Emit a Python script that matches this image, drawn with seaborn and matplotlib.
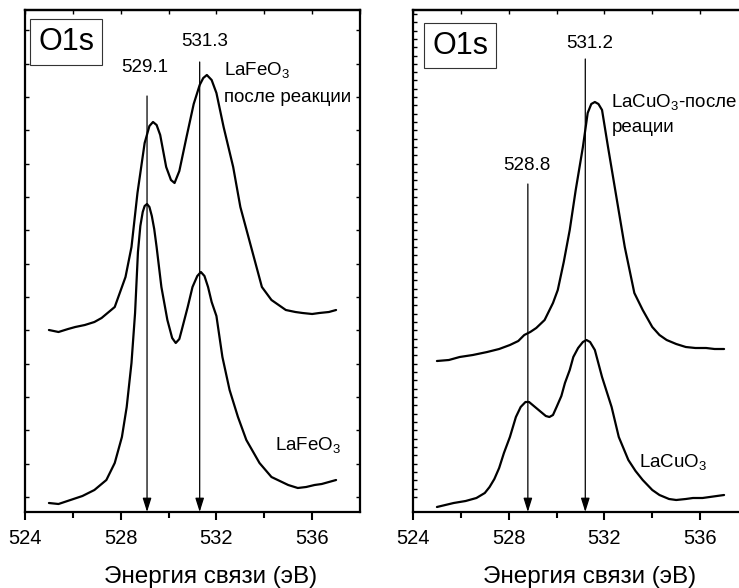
import matplotlib
matplotlib.use("Agg")
import matplotlib.pyplot as plt
import seaborn as sns
import pandas as pd
import numpy as np

# --- данные (энергия связи, эВ / интенсивность, отн. ед.) ---
fe_fresh_e = [525.0, 525.4, 525.9, 526.4, 526.9, 527.4, 527.75, 528.05, 528.25, 528.45,
              528.6, 528.72, 528.82, 528.92, 529.0, 529.1, 529.2, 529.3, 529.4, 529.5,
              529.7, 529.95, 530.15, 530.3, 530.45, 530.55, 530.8, 531.0, 531.2, 531.35,
              531.5, 531.65, 531.8, 532.0, 532.25, 532.55, 532.9, 533.25, 533.8, 534.3,
              535.0, 535.4, 535.75, 536.1, 536.4, 536.7, 537.0]
fe_fresh_i = [0.9, 0.8, 1.2, 1.6, 2.2, 3.2, 4.9, 7.5, 10.5, 14.9,
              19.9, 26.0, 28.6, 30.0, 30.6, 30.8, 30.5, 29.6, 28.3, 26.5,
              22.5, 19.2, 17.4, 16.9, 17.3, 18.2, 20.5, 22.5, 23.6, 24.0,
              23.6, 22.5, 21.0, 19.6, 15.5, 12.2, 9.5, 7.2, 4.9, 3.5,
              2.7, 2.4, 2.5, 2.7, 2.8, 3.0, 3.2]

fe_after_e = [525.0, 525.4, 525.8, 526.1, 526.5, 526.9, 527.2, 527.45, 527.75, 528.05,
              528.2, 528.45, 528.7, 529.0, 529.2, 529.35, 529.5, 529.65, 529.9, 530.1,
              530.25, 530.45, 530.75, 531.05, 531.3, 531.45, 531.6, 531.8, 532.0, 532.3,
              532.7, 533.0, 533.45, 533.9, 534.3, 534.9, 535.3, 535.6, 536.0, 536.3,
              536.7, 537.0]
fe_after_i = [18.2, 18.0, 18.3, 18.5, 18.7, 19.0, 19.4, 19.9, 20.5, 22.5,
              23.5, 26.5, 31.9, 36.9, 38.6, 39.0, 38.7, 37.7, 34.5, 33.2,
              32.9, 34.1, 37.5, 40.8, 42.7, 43.4, 43.7, 43.2, 41.9, 38.5,
              34.5, 30.5, 26.5, 22.5, 21.2, 20.2, 20.0, 19.9, 19.8, 19.9,
              20.0, 20.2]

cu_fresh_e = [525.0, 525.35, 525.7, 526.2, 526.65, 527.0, 527.2, 527.4, 527.6, 527.8,
              528.05, 528.3, 528.5, 528.7, 528.85, 529.0, 529.2, 529.4, 529.55, 529.7,
              529.85, 530.0, 530.2, 530.35, 530.55, 530.7, 530.9, 531.1, 531.25, 531.4,
              531.6, 531.9, 532.1, 532.3, 532.6, 533.0, 533.3, 533.6, 534.0, 534.3,
              534.7, 535.0, 535.4, 535.7, 536.1, 536.4, 536.7, 537.0]
cu_fresh_i = [0.5, 0.7, 0.9, 1.1, 1.4, 1.9, 2.5, 3.3, 4.4, 5.9,
              7.5, 9.5, 10.5, 11.0, 11.0, 10.7, 10.3, 9.9, 9.6, 9.5,
              9.7, 10.5, 11.6, 12.9, 14.2, 15.5, 16.4, 17.0, 17.2, 17.0,
              16.2, 13.5, 12.0, 10.5, 7.5, 5.2, 4.1, 3.2, 2.2, 1.7,
              1.3, 1.2, 1.3, 1.4, 1.4, 1.5, 1.6, 1.7]

cu_after_e = [525.0, 525.5, 525.95, 526.5, 527.1, 527.6, 528.05, 528.4, 528.65, 528.9,
              529.15, 529.5, 529.85, 530.05, 530.3, 530.55, 530.8, 531.1, 531.3, 531.45,
              531.6, 531.75, 531.9, 532.15, 532.5, 532.85, 533.25, 533.6, 534.0, 534.3,
              534.6, 535.0, 535.4, 535.8, 536.25, 536.6, 537.0]
cu_after_i = [15.1, 15.2, 15.5, 15.7, 16.0, 16.3, 16.7, 17.1, 17.7, 18.0,
              18.4, 19.2, 20.9, 22.2, 25.0, 28.2, 32.2, 36.5, 39.9, 40.8,
              41.0, 40.8, 40.2, 36.5, 31.5, 26.5, 21.9, 20.2, 18.5, 17.7,
              17.2, 16.8, 16.5, 16.4, 16.4, 16.3, 16.3]

# положения пиков (стрелки) и высота начала стрелки
fe_peaks = [529.1, 531.3]
fe_arrow_top = [41.6, 45.0]
cu_peaks = [528.8, 531.2]
cu_arrow_top = [32.8, 45.3]

x_major = [524, 528, 532, 536]
x_label = "Энергия связи (эВ)"

sns.set_style("ticks")
plt.rcParams["font.family"] = ["Liberation Sans", "DejaVu Sans"]
plt.rcParams["mathtext.default"] = "regular"
for key in ["text.color", "axes.labelcolor", "xtick.color", "ytick.color", "axes.edgecolor"]:
    plt.rcParams[key] = "black"

W, H = 739, 588
fig = plt.figure(figsize=(W / 100, H / 100), dpi=100)
ax1 = fig.add_axes([25 / W, 1 - 512 / H, 335 / W, 502 / H])
ax2 = fig.add_axes([413 / W, 1 - 512 / H, 335 / W, 502 / H])


def draw_panel(ax, curves, peaks, tops, ytick_step, label_x, box_xy):
    for e, i in curves:
        df = pd.DataFrame({"E": e, "I": i})
        sns.lineplot(data=df, x="E", y="I", ax=ax, color="black", linewidth=1.6,
                     solid_joinstyle="round", solid_capstyle="round")
    for p, t in zip(peaks, tops):
        ax.annotate("", xy=(p, 0), xytext=(p, t),
                    arrowprops=dict(arrowstyle="-|>,head_length=0.7,head_width=0.22",
                                    color="black", lw=0.9, shrinkA=0, shrinkB=0,
                                    mutation_scale=12))
    ax.set_xlim(524, 538)
    ax.set_ylim(0, 50.2)
    ax.set_xticks(x_major)
    ax.set_xticks([526, 530, 534], minor=True)
    ax.tick_params(axis="x", which="major", direction="out", length=6, width=1.5,
                   labelsize=14.5, pad=6)
    ax.tick_params(axis="x", which="minor", direction="out", length=4, width=1.5)
    ax.set_yticks(np.arange(1.5, 50, ytick_step))
    ax.tick_params(axis="y", which="major", direction="in", length=3, width=1.0,
                   left=True, right=True, labelleft=False)
    sec = ax.secondary_xaxis("top")
    sec.set_xticks(range(524, 539, 2))
    sec.tick_params(direction="in", length=3, width=1.0, labeltop=False)
    sec.spines["top"].set_linewidth(1.6)
    for s in ax.spines.values():
        s.set_visible(True)
        s.set_linewidth(1.6)
    ax.set_ylabel("")
    ax.set_xlabel(x_label, fontsize=17.5)
    ax.xaxis.set_label_coords(label_x, -0.108)
    ax.text(box_xy[0], box_xy[1], "O1s", transform=ax.transAxes, fontsize=22,
            va="center", ha="left",
            bbox=dict(boxstyle="square,pad=0.25", fc="white", ec="#333333", lw=0.8))


draw_panel(ax1, [(fe_fresh_e, fe_fresh_i), (fe_after_e, fe_after_i)],
           fe_peaks, fe_arrow_top, 3.333, 0.555, (0.039, 0.936))
draw_panel(ax2, [(cu_fresh_e, cu_fresh_i), (cu_after_e, cu_after_i)],
           cu_peaks, cu_arrow_top, 0.833, 0.528, (0.057, 0.929))

fs = 13.5
ax1.text(fe_peaks[0] - 0.1, 44.4, "529.1", fontsize=fs, ha="center", va="center")
ax1.text(fe_peaks[1] + 0.2, 47.0, "531.3", fontsize=fs, ha="center", va="center")
ax1.text(532.33, 44.2, "LaFeO$_3$", fontsize=fs, ha="left", va="center")
ax1.text(532.33, 41.5, "после реакции", fontsize=fs, ha="left", va="center")
ax1.text(534.46, 6.7, "LaFeO$_3$", fontsize=fs, ha="left", va="center")

ax2.text(cu_peaks[1] + 0.18, 46.9, "531.2", fontsize=fs, ha="center", va="center")
ax2.text(cu_peaks[0] - 0.05, 34.6, "528.8", fontsize=fs, ha="center", va="center")
ax2.text(532.29, 41.0, "LaCuO$_3$-после", fontsize=fs, ha="left", va="center")
ax2.text(532.29, 38.5, "реации", fontsize=fs, ha="left", va="center")
ax2.text(533.46, 5.0, "LaCuO$_3$", fontsize=fs, ha="left", va="center")

fig.savefig("out.png", dpi=100)
